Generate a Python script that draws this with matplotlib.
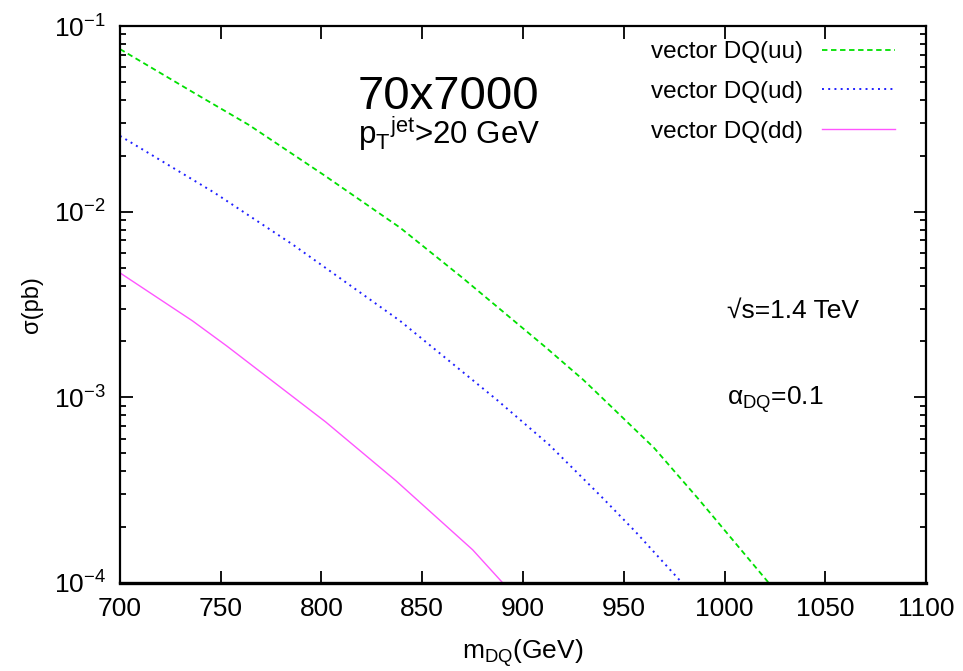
import matplotlib
matplotlib.use("Agg")
import matplotlib.pyplot as plt
from matplotlib.ticker import LogLocator, FixedLocator, NullFormatter

plt.rcParams['font.family'] = ['Liberation Sans', 'DejaVu Sans']
plt.rcParams['mathtext.fontset'] = 'custom'
plt.rcParams['mathtext.rm'] = 'Liberation Sans'
plt.rcParams['mathtext.it'] = 'Liberation Sans:italic'
plt.rcParams['mathtext.sf'] = 'Liberation Sans'

# ---- data ----
uu_x = [700, 736, 764, 801, 839, 870, 911, 930, 939, 965, 987, 1022]
uu_y = [0.0751, 0.0441, 0.0293, 0.0158, 0.0082, 0.0044, 0.00187, 0.00124,
        0.00100, 0.000535, 0.000284, 0.0001]

ud_x = [700, 747, 786, 839, 887, 913, 939, 956, 979]
ud_y = [0.0256, 0.01262, 0.00662, 0.00258, 0.00097, 0.000555, 0.000291,
        0.000188, 0.0001]

dd_x = [700, 736, 753, 802, 837, 875, 890]
dd_y = [0.00468, 0.00258, 0.00189, 0.000738, 0.000355, 0.000151, 0.0001]

labels = ['vector DQ(uu)', 'vector DQ(ud)', 'vector DQ(dd)']
x_ticks = [700, 750, 800, 850, 900, 950, 1000, 1050, 1100]

W, H = 963, 671
fig = plt.figure(figsize=(W / 100, H / 100), dpi=100)
L, R, T, B = 120, 926, 26, 583
ax = fig.add_axes([L / W, 1 - B / H, (R - L) / W, (B - T) / H])

ax.plot(uu_x, uu_y, color='#00e000', lw=1.3, dashes=(3, 2), label=labels[0])
ax.plot(ud_x, ud_y, color='#2020ff', lw=1.4, dashes=(1, 2.2), label=labels[1])
ax.plot(dd_x, dd_y, color='#ff55ff', lw=1.0, label=labels[2])

ax.set_yscale('log')
ax.set_xlim(700, 1100)
ax.set_ylim(1e-4, 1e-1)
ax.xaxis.set_major_locator(FixedLocator(x_ticks))
ax.yaxis.set_major_locator(LogLocator(base=10, numticks=10))
ax.yaxis.set_minor_locator(LogLocator(base=10, subs=range(2, 10), numticks=20))
ax.yaxis.set_minor_formatter(NullFormatter())

ax.tick_params(which='both', direction='in', top=True, right=True,
               labelsize=19, width=1.3, colors='black')
ax.tick_params(which='major', length=9, pad=10)
ax.tick_params(which='minor', length=4)
for s in ax.spines.values():
    s.set_linewidth(1.6)
ax.spines['bottom'].set_linewidth(2.4)

ax.set_xlabel(r'm$_{\mathregular{DQ}}$(GeV)', fontsize=19, labelpad=12)
ax.set_ylabel('σ(pb)', fontsize=17, labelpad=8)

leg = ax.legend(loc='upper right', bbox_to_anchor=(0.9615, 0.973),
                frameon=False, markerfirst=False, fontsize=17.5,
                handlelength=3.0, labelspacing=0.73, borderaxespad=0,
                borderpad=0, handletextpad=0.78)

fig.text(358 / W, 1 - 109 / H, '70x7000', fontsize=34, va='baseline')
fig.text(358 / W, 1 - 144 / H,
         r'p$_{\mathregular{T}}$$^{\mathregular{jet}}$>20 GeV', fontsize=22.5,
         va='baseline')
fig.text(727 / W, 1 - 311 / H, '√s=1.4 TeV', fontsize=19, va='center')
fig.text(727 / W, 1 - 400 / H, r'α$_{\mathregular{DQ}}$=0.1',
         fontsize=19, va='center')

fig.savefig('out.png', dpi=100)
